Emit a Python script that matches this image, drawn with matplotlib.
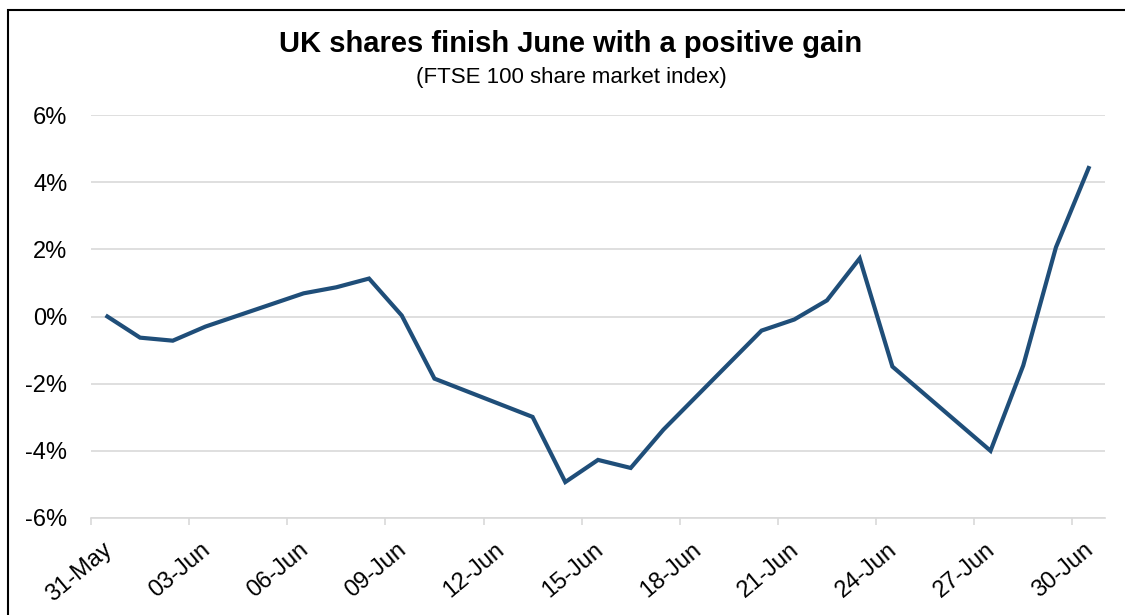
import matplotlib
matplotlib.use('Agg')
import matplotlib.pyplot as plt
import matplotlib.transforms as mtransforms
from matplotlib.patches import Rectangle
import numpy as np
import pandas as pd

# FTSE 100, % change since 31 May 2016 (trading days only)
dates = ['2016-05-31', '2016-06-01', '2016-06-02', '2016-06-03',
         '2016-06-06', '2016-06-07', '2016-06-08', '2016-06-09', '2016-06-10',
         '2016-06-13', '2016-06-14', '2016-06-15', '2016-06-16', '2016-06-17',
         '2016-06-20', '2016-06-21', '2016-06-22', '2016-06-23', '2016-06-24',
         '2016-06-27', '2016-06-28', '2016-06-29', '2016-06-30']
change = [0.0, -0.63, -0.72, -0.30,
          0.69, 0.87, 1.13, 0.03, -1.85,
          -2.99, -4.93, -4.27, -4.51, -3.37,
          -0.42, -0.09, 0.48, 1.73, -1.49,
          -4.0, -1.46, 2.06, 4.42]

tick_labels = ['31-May', '03-Jun', '06-Jun', '09-Jun', '12-Jun', '15-Jun',
               '18-Jun', '21-Jun', '24-Jun', '27-Jun', '30-Jun']
y_ticks = [-6, -4, -2, 0, 2, 4, 6]

plt.rcParams['font.family'] = ['Liberation Sans', 'DejaVu Sans']

d = pd.to_datetime(dates)
start = d[0]
days = np.array((d - start).days)

fig = plt.figure(figsize=(11.25, 6.15), dpi=100)
ax = fig.add_axes([91 / 1125, 1 - 518 / 615, (1105 - 91) / 1125, (518 - 115) / 615])

ax.plot(days, change, color='#1f4e79', lw=3.0, solid_joinstyle='miter', zorder=3)

ax.set_xlim(-0.5, 30.5)
ax.set_ylim(-6, 6)
ax.set_yticks(y_ticks)
ax.set_yticklabels([f'{v}%' for v in y_ticks])
ax.yaxis.grid(True, color='#d9d9d9', lw=1.2)
ax.set_axisbelow(True)
ax.tick_params(axis='y', length=0, pad=17, labelsize=17)

# labels at the dates, tick marks between days
label_pos = np.arange(0, 31, 3)
ax.set_xticks(label_pos)
ax.set_xticklabels(tick_labels)
ax.set_xticks(label_pos - 0.5, minor=True)
ax.tick_params(axis='x', which='major', length=0, pad=15, labelsize=17)
ax.tick_params(axis='x', which='minor', length=5, color='#d9d9d9', width=1.2, direction='out')
offset = mtransforms.ScaledTranslation(-5 / 100, 0, fig.dpi_scale_trans)
for lab in ax.get_xticklabels():
    lab.set_rotation(40)
    lab.set_ha('right')
    lab.set_va('top')
    lab.set_rotation_mode('anchor')
    lab.set_transform(lab.get_transform() + offset)

for s in ['top', 'right', 'left']:
    ax.spines[s].set_visible(False)
ax.spines['bottom'].set_color('#d9d9d9')
ax.spines['bottom'].set_linewidth(1.2)

fig.text(571 / 1125, 1 - 44 / 615, 'UK shares finish June with a positive gain',
         ha='center', va='center', fontsize=21, fontweight='bold')
fig.text(571 / 1125, 1 - 77 / 615, '(FTSE 100 share market index)',
         ha='center', va='center', fontsize=16)

# chart border
fig.add_artist(Rectangle((8 / 1125, -0.2), 1.2, 1.2 - 10 / 615,
                         transform=fig.transFigure, fill=False, ec='black', lw=1.5))

fig.savefig('out.png', dpi=100)
